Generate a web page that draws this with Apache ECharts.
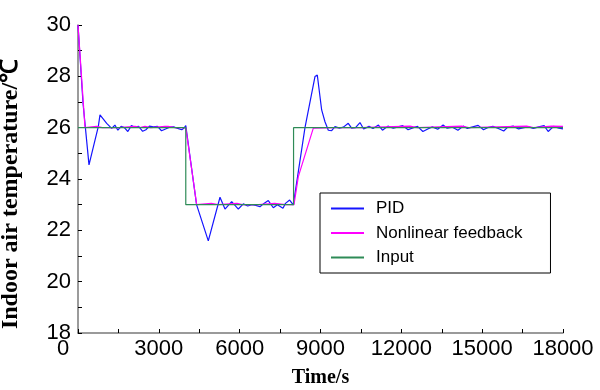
<!DOCTYPE html>
<html>
<head>
<meta charset="utf-8">
<script src="https://cdn.jsdelivr.net/npm/echarts@6/dist/echarts.min.js"></script>
<style>
  html, body { margin: 0; padding: 0; background: #fff; }
  #chart { width: 600px; height: 390px; }
</style>
</head>
<body>
<div id="chart"></div>
<script>
// time (s) and indoor temperature (℃) for each curve
const pidTime = [0, 186, 408, 471, 753, 816, 880, 1065, 1250, 1370, 1480, 1600, 1720, 1850, 1980, 2100, 2250, 2400, 2520, 2650, 2800, 2950, 3100, 3250, 3400, 3550, 3700, 3850, 3950, 4000,
  4400, 4836, 5270, 5455, 5703, 5950, 6135, 6300, 6450, 6600, 6754, 6900, 7063, 7248, 7400, 7607, 7700, 7855, 7990,
  8424, 8795, 8881, 8955, 9043, 9166, 9290, 9414, 9537, 9700, 9850, 10030, 10155, 10300, 10465, 10600, 10800, 10950, 11150, 11300, 11500, 11700, 11850, 12050, 12250, 12450, 12600, 12800, 13000, 13150, 13350, 13550, 13700, 13900, 14100, 14300, 14450, 14650, 14850, 15050, 15200, 15400, 15600, 15800, 15950, 16150, 16350, 16550, 16700, 16900, 17100, 17300, 17450, 17650, 17850, 18000];
const pidTemp = [30, 26.96, 24.55, 24.48, 26.04, 26.5, 26.56, 26.17, 25.97, 26.1, 25.9, 26.05, 26.0, 25.85, 26.08, 26.02, 26.05, 25.86, 25.92, 26.06, 26.03, 26.05, 25.88, 25.95, 26.02, 26.03, 25.97, 25.92, 26.0, 26.08,
  23.0, 21.59, 23.29, 22.83, 23.12, 22.83, 23.03, 22.95, 23.0, 22.97, 22.92, 23.05, 23.16, 22.88, 23.0, 22.86, 23.05, 23.18, 22.99,
  26.0, 27.99, 28.05, 27.99, 26.69, 26.23, 25.9, 25.88, 26.04, 25.98, 26.02, 26.17, 25.98, 26.0, 26.2, 25.95, 26.05, 25.97, 26.1, 25.9, 26.06, 25.98, 26.02, 26.08, 25.92, 26.0, 26.05, 25.85, 25.96, 26.03, 25.94, 26.1, 25.98, 26.02, 25.9, 26.06, 25.97, 26.03, 26.09, 25.92, 26.0, 26.05, 25.97, 25.87, 26.02, 26.06, 25.95, 26.0, 26.04, 25.97, 26.03, 26.08, 25.85, 26.05, 25.98, 25.95];

const nlTime = [0, 260, 693, 900, 1500, 2115, 2300, 2486, 2700, 3230, 3340, 3600, 4000,
  4405, 4950, 5200, 5900, 6100, 6700, 7300, 7700, 8016,
  8177, 8733, 9500, 10500, 12320, 12600, 14240, 14500, 16650, 16900, 17580, 18000];
const nlTemp = [30, 26, 26.05, 26.0, 26.0, 26.05, 26.0, 26.05, 26.0, 26.05, 26.05, 26.0, 26.0,
  23.0, 23.05, 23.0, 23.05, 23.0, 23.0, 23.05, 23.0, 23.0,
  24.09, 25.98, 26.0, 26.0, 26.06, 26.0, 26.06, 26.0, 26.06, 26.0, 26.06, 26.05];

const inputTime = [0, 4000, 4000, 8000, 8000, 18000];
const inputTemp = [26, 26, 23, 23, 26, 26];

const xTicks = { min: 0, max: 18000, interval: 3000 };
const yTicks = { min: 18, max: 30, interval: 2 };

function pairs(xs, ys) {
  return xs.map((x, i) => [x, ys[i]]);
}

const chart = echarts.init(document.getElementById('chart'));
const font = 'Liberation Sans, Arial, sans-serif';
const serif = 'Liberation Serif, Times New Roman, serif';
const axisLine = { show: true, lineStyle: { color: '#7a7a7a', width: 1.5 } };

chart.setOption({
  animation: false,
  backgroundColor: '#fff',
  grid: { left: 78, right: 37, top: 25, bottom: 57, outerBoundsMode: 'none' },
  legend: {
    orient: 'vertical',
    left: 320,
    top: 193,
    itemWidth: 33,
    itemHeight: 14,
    itemGap: 7.5,
    padding: [7, 28, 7, 10],
    borderColor: '#000',
    borderWidth: 1,
    borderRadius: 0,
    itemStyle: { opacity: 0 },
    textStyle: { fontFamily: font, fontSize: 17, color: '#000', padding: [0, 0, 0, 7] },
    data: ['PID', 'Nonlinear feedback', 'Input']
  },
  xAxis: {
    type: 'value',
    min: xTicks.min,
    max: xTicks.max,
    interval: xTicks.interval,
    axisLine: axisLine,
    axisTick: { inside: true, length: 4, lineStyle: { color: '#000' } },
    minorTick: { show: true, splitNumber: 2, length: 4, lineStyle: { color: '#000' } },
    splitLine: { show: false },
    axisLabel: {
      margin: 5,
      color: '#000',
      fontFamily: font,
      fontSize: 22,
      formatter: v => v === 0 ? '{z|0}' : String(v),
      rich: { z: { fontFamily: font, fontSize: 22, color: '#000', padding: [0, 30, 0, 0] } }
    },
    name: 'Time/s',
    nameLocation: 'middle',
    nameGap: 35,
    nameTextStyle: { fontFamily: serif, fontWeight: 'bold', fontSize: 20, color: '#000' }
  },
  yAxis: {
    type: 'value',
    min: yTicks.min,
    max: yTicks.max,
    interval: yTicks.interval,
    axisLine: axisLine,
    axisTick: { inside: true, length: 4, lineStyle: { color: '#000' } },
    minorTick: { show: true, splitNumber: 2, length: 4, lineStyle: { color: '#000' } },
    splitLine: { show: false },
    axisLabel: { margin: 7, color: '#000', fontFamily: font, fontSize: 22 },
    name: 'Indoor air temperature/℃',
    nameLocation: 'middle',
    nameGap: 55,
    nameTextStyle: { fontFamily: serif, fontWeight: 'bold', fontSize: 24, color: '#000', padding: [0, 30, 0, 0] }
  },
  series: [
    {
      name: 'PID',
      type: 'line',
      symbol: 'none',
      data: pairs(pidTime, pidTemp),
      lineStyle: { color: '#1515ff', width: 1.2 },
      itemStyle: { color: '#1515ff' },
      z: 2
    },
    {
      name: 'Nonlinear feedback',
      type: 'line',
      symbol: 'none',
      data: pairs(nlTime, nlTemp),
      lineStyle: { color: '#ff00ff', width: 1.2 },
      itemStyle: { color: '#ff00ff' },
      z: 3
    },
    {
      name: 'Input',
      type: 'line',
      symbol: 'none',
      data: pairs(inputTime, inputTemp),
      lineStyle: { color: '#2e8b57', width: 1.2 },
      itemStyle: { color: '#2e8b57' },
      z: 4
    }
  ]
});
</script>
</body>
</html>
